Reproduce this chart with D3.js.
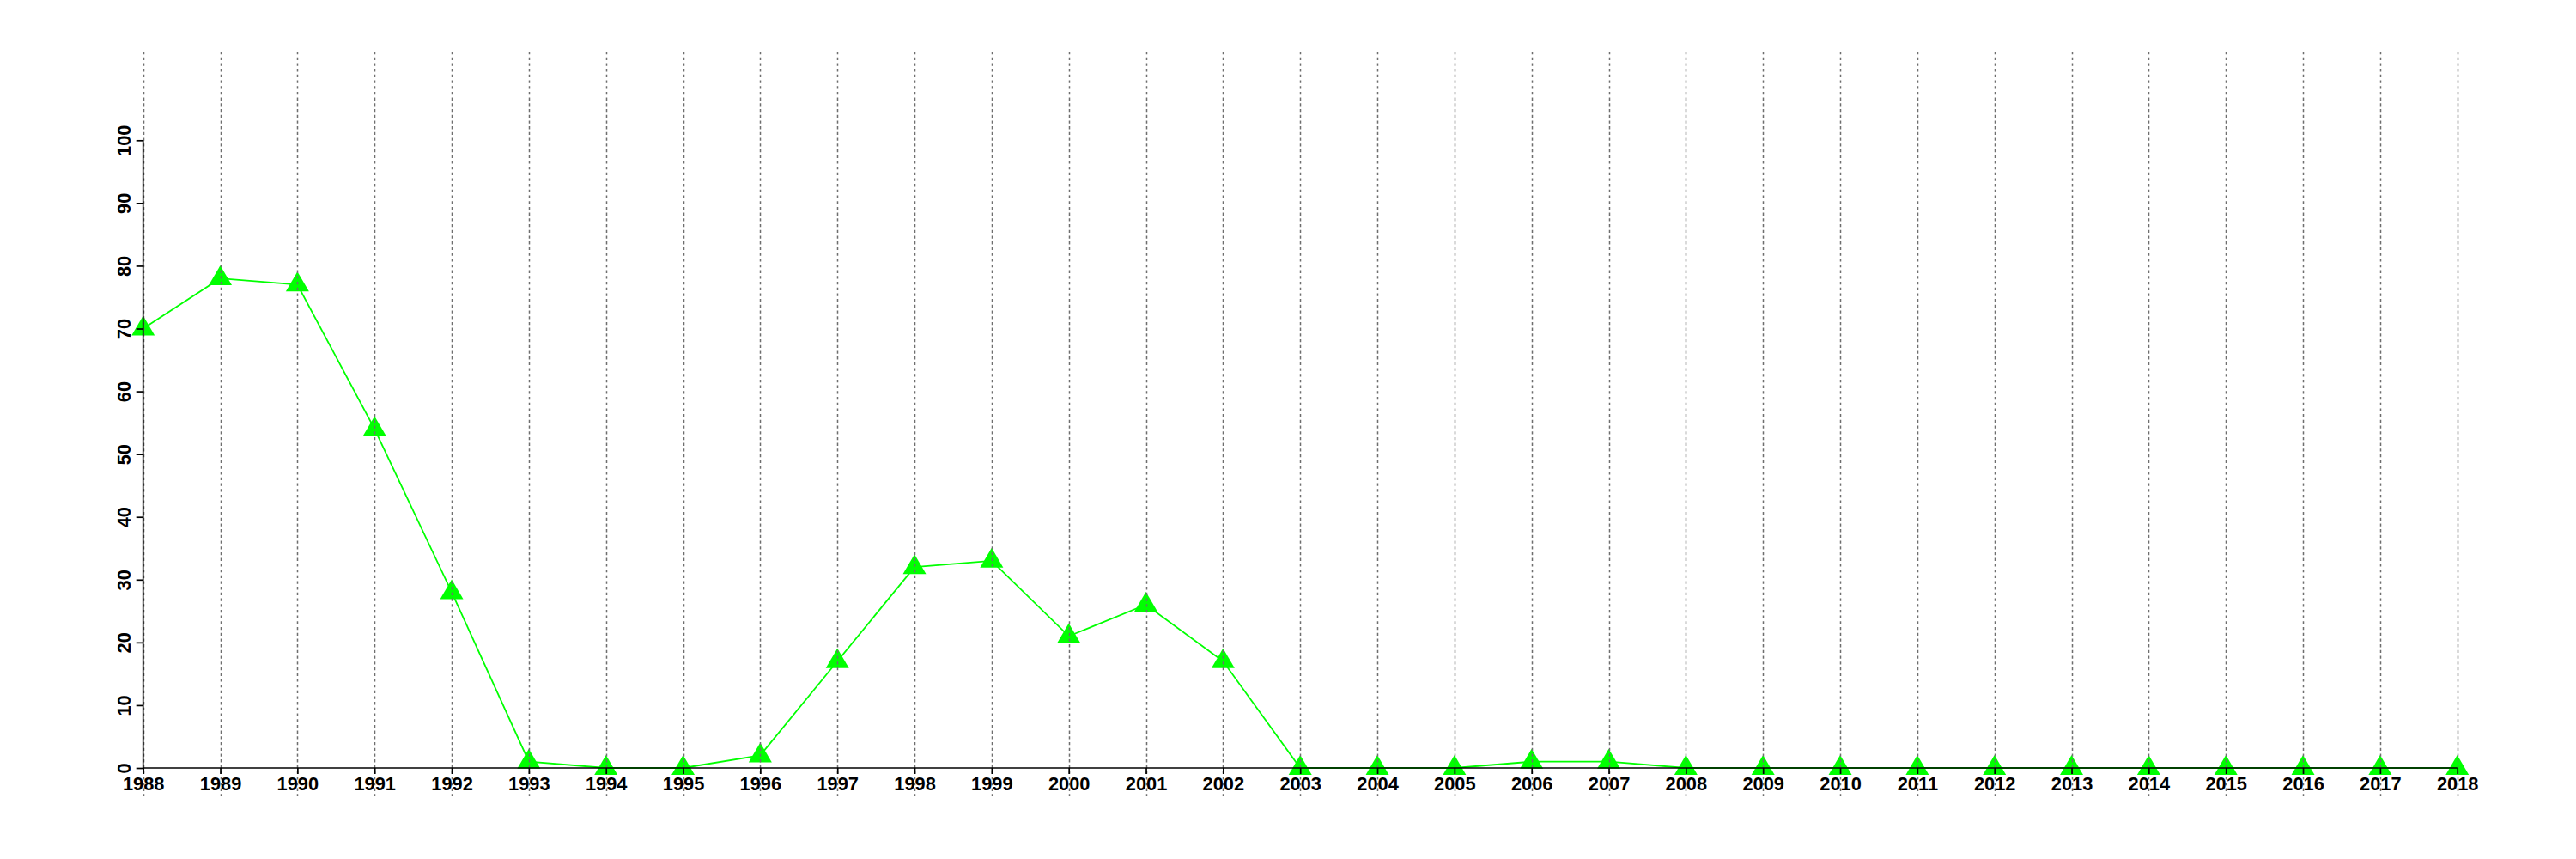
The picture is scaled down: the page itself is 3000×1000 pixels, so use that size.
<!DOCTYPE html>
<html>
<head>
<meta charset="utf-8">
<script src="https://cdn.jsdelivr.net/npm/d3@7"></script>
<style>
html,body{margin:0;padding:0;background:#fff;}
svg{display:block;}
text{font-family:"Liberation Sans",Arial,Helvetica,sans-serif;font-weight:bold;}
</style>
</head>
<body>
<svg id="chart" width="3000" height="1000"></svg>
<script>
const years = d3.range(1988, 2019);
const values = [70, 78, 77, 54, 28, 1, 0, 0, 2, 17, 32, 33, 21, 26, 17, 0, 0, 0, 1, 1, 0, 0, 0, 0, 0, 0, 0, 0, 0, 0, 0];
const yTicks = [0, 10, 20, 30, 40, 50, 60, 70, 80, 90, 100];

const svg = d3.select("#chart");
const x = d3.scaleLinear().domain([1988, 2018]).range([166.7, 2861.7]);
const y = d3.scaleLinear().domain([0, 100]).range([894, 163.3]);

// series line
const line = d3.line().x((d, i) => x(years[i])).y(d => y(d));
svg.append("path")
  .datum(values)
  .attr("d", line)
  .attr("fill", "none")
  .attr("stroke", "#00ff00")
  .attr("stroke-width", 1.8);

// triangles
svg.append("g").selectAll("path")
  .data(values)
  .join("path")
  .attr("transform", (d, i) => `translate(${x(years[i])},${y(d)})`)
  .attr("d", "M0,-15L13.5,8L-13.5,8Z")
  .attr("fill", "#00ff00");

// vertical dotted grid lines
svg.append("g").selectAll("line")
  .data(years)
  .join("line")
  .attr("x1", d => Math.round(x(d)) + 0.5).attr("x2", d => Math.round(x(d)) + 0.5)
  .attr("y1", 60).attr("y2", 927)
  .attr("stroke", "#6e6e6e")
  .attr("stroke-width", 1.5)
  .attr("stroke-dasharray", "3.3,3.4");

// x axis
const xAxis = d3.axisBottom(x).tickValues(years).tickFormat(d3.format("d")).tickSize(7).tickPadding(5);
const gx = svg.append("g").attr("transform", `translate(0,${y(0)})`).call(xAxis);
gx.select(".domain").attr("stroke", "#000").attr("stroke-width", 1.7).attr("d", `M${x(1988)},0H${x(2018)}`);
gx.selectAll(".tick line").attr("stroke", "#000").attr("stroke-width", 1.7);
gx.selectAll(".tick text").attr("font-size", 21.8).attr("fill", "#000")
  .attr("font-family", '"Liberation Sans",Arial,sans-serif').attr("font-weight", "bold")
  .attr("dy", null).attr("y", 26);

// y axis
const yAxis = d3.axisLeft(y).tickValues(yTicks).tickSize(8).tickPadding(0);
const gy = svg.append("g").attr("transform", `translate(${x(1988)},0)`).call(yAxis);
gy.select(".domain").attr("stroke", "#000").attr("stroke-width", 1.7).attr("d", `M0,${y(0)}V${y(100)}`);
gy.selectAll(".tick line").attr("stroke", "#000").attr("stroke-width", 1.7);
gy.selectAll(".tick text")
  .attr("font-size", 21.8).attr("fill", "#000")
  .attr("font-family", '"Liberation Sans",Arial,sans-serif').attr("font-weight", "bold")
  .attr("x", null).attr("dy", null)
  .attr("text-anchor", "middle")
  .attr("transform", "translate(-15,0) rotate(-90)");
</script>
</body>
</html>
